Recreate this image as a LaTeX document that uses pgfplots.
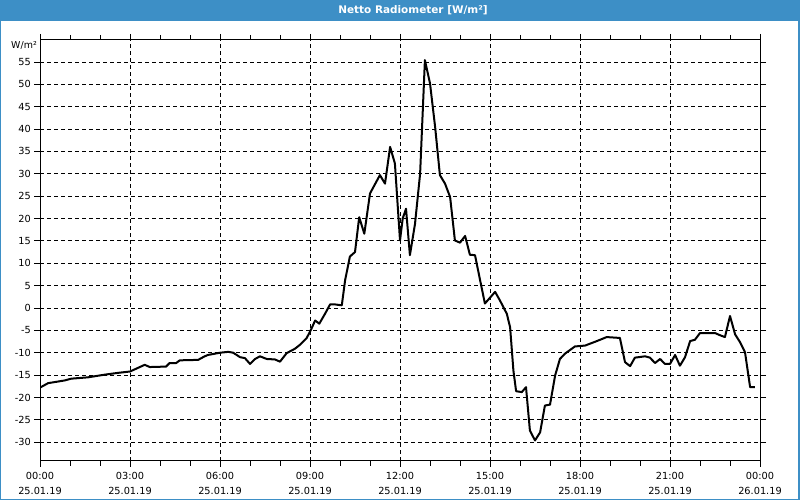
\documentclass[border=0pt]{standalone}
\usepackage{pgfplots}
\pgfplotsset{compat=1.18}
\usepackage{fontspec}
\setmainfont{DejaVu Sans}
\definecolor{titleblue}{RGB}{61,143,198}
\begin{document}
\begin{tikzpicture}[x=1bp,y=1bp]
\useasboundingbox (0,0) rectangle (800,500);
\fill[white] (0,0) rectangle (800,500);
\fill[titleblue] (0,479) rectangle (800,500);
\draw[titleblue, line width=1bp] (0.5,0.5) rectangle (799.5,479);
\draw[titleblue, line width=1bp] (798.5,0.5) -- (798.5,479);
\node[text=white, font=\fontsize{10.5}{12}\selectfont\bfseries] at (413,489.5) {Netto Radiometer [W/m²]};
\node[anchor=east, inner sep=0pt, font=\fontsize{9.5}{11}\selectfont] at (37,455) {W/m²};
\begin{axis}[
  at={(40bp,39bp)}, anchor=south west,
  width=720bp, height=421bp, scale only axis,
  xmin=0, xmax=24, ymin=-34.2, ymax=59.9,
  xtick={0,3,...,24},
  xticklabels={{00:00\\25.01.19},{03:00\\25.01.19},{06:00\\25.01.19},{09:00\\25.01.19},{12:00\\25.01.19},{15:00\\25.01.19},{18:00\\25.01.19},{21:00\\25.01.19},{00:00\\26.01.19}},
  minor x tick num=2,
  ytick={-30,-25,...,55},
  tick align=outside,
  major tick length=6bp, minor tick length=5bp,
  tick style={black, line width=0.8bp},
  axis line style={black, line width=1bp},
  grid=major,
  major grid style={black, dash pattern=on 4bp off 3bp, line width=0.8bp},
  /pgf/number format/assume math mode=true,
  tick label style={font=\fontsize{9.8}{15}\selectfont},
  xticklabel style={align=center, anchor=north, inner sep=0pt, yshift=-5bp},
  yticklabel style={anchor=east, inner sep=0pt, xshift=-3bp},
  axis background/.style={fill=white},
]
\addplot[black, line width=2bp, line join=round] coordinates {
(0,-17.8) (0.27,-16.8) (0.82,-16.2) (1.04,-15.8) (1.6,-15.5) (2.16,-14.9) (2.6,-14.5) (3.0,-14.2)
(3.49,-12.7) (3.66,-13.2) (4.2,-13.1) (4.32,-12.3) (4.54,-12.3) (4.66,-11.7) (5.27,-11.6) (5.49,-10.8)
(5.6,-10.5) (6.0,-10.0) (6.28,-9.8) (6.44,-10.0) (6.67,-11.0) (6.83,-11.2) (7.0,-12.5) (7.17,-11.4)
(7.33,-10.8) (7.56,-11.4) (7.83,-11.5) (8.0,-12.0) (8.22,-10.1) (8.5,-9.1) (8.67,-8.2) (8.89,-6.7)
(9.03,-4.9) (9.17,-2.8) (9.31,-3.5) (9.5,-1.3) (9.67,0.8) (9.83,0.8) (10.06,0.6) (10.17,6.2)
(10.33,11.5) (10.5,12.5) (10.64,20.3) (10.81,16.6) (11.0,25.6) (11.33,29.7) (11.5,27.8) (11.67,36.0)
(11.83,32.3) (12.0,15.1) (12.09,20.0) (12.2,22.2) (12.33,11.8) (12.5,18.8) (12.67,30.0) (12.83,55.4)
(13.0,50.2) (13.17,40.5) (13.33,29.7) (13.5,27.8) (13.67,24.8) (13.83,15.1) (14.0,14.6) (14.17,16.1)
(14.33,11.9) (14.5,11.8) (14.67,6.2) (14.83,1.0) (15.17,3.6) (15.33,1.7) (15.56,-1.3) (15.67,-4.3)
(15.78,-14.0) (15.87,-18.6) (16.06,-18.8) (16.2,-17.7) (16.33,-27.4) (16.5,-29.6) (16.67,-27.8) (16.83,-21.8)
(17.0,-21.6) (17.17,-15.1) (17.33,-11.4) (17.5,-10.2) (17.83,-8.6) (18.17,-8.4) (18.56,-7.4) (18.89,-6.5)
(19.33,-6.7) (19.5,-12.1) (19.67,-13.0) (19.83,-11.1) (20.17,-10.8) (20.33,-11.1) (20.5,-12.3) (20.67,-11.4)
(20.83,-12.5) (21.0,-12.5) (21.17,-10.5) (21.33,-12.9) (21.5,-11.0) (21.67,-7.4) (21.83,-7.1) (22.0,-5.6)
(22.5,-5.6) (22.67,-6.1) (22.83,-6.5) (23.0,-1.8) (23.17,-5.9) (23.33,-7.6) (23.5,-9.9) (23.67,-17.7)
(23.83,-17.7)
};
\end{axis}
\end{tikzpicture}
\end{document}
